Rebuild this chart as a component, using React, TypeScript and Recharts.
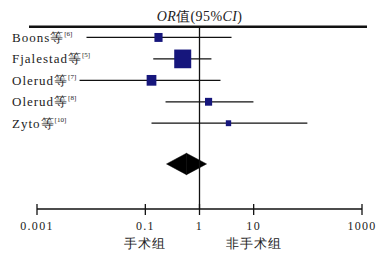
import React from 'react';
import {
  ScatterChart,
  Scatter,
  XAxis,
  YAxis,
  ReferenceLine,
  ReferenceArea,
} from 'recharts';

// Individual studies
const studyNames = ['Boons等', 'Fjalestad等', 'Olerud等', 'Olerud等', 'Zyto等'];
const studyRefs = ['[6]', '[5]', '[7]', '[8]', '[10]'];
const oddsRatios = [0.175, 0.49, 0.13, 1.47, 3.43];
const ciLower = [0.0082, 0.14, 0.0061, 0.236, 0.13];
const ciUpper = [3.9, 1.66, 2.44, 9.9, 98];
const studyWeights = [12.5, 54.6, 17.9, 9.6, 5.4];

// Pooled estimate
const pooledOR = 0.575;
const pooledLower = 0.246;
const pooledUpper = 1.35;

// Axis
const axisTicks = [0.001, 0.1, 1, 10, 1000];
const favourTicks = [0.1, 10];
const favourLabels = ['手术组', '非手术组'];

const POOLED_ROW = 5.9;
const BOX_COLOR = '#16167c';
const SERIF = 'Liberation Serif, serif';

const rows = studyNames.map((name, i) => ({
  name,
  ref: studyRefs[i],
  or: oddsRatios[i],
  lower: ciLower[i],
  upper: ciUpper[i],
  weight: studyWeights[i],
  row: i,
}));

const WeightBox = (props: any) => {
  const { cx, cy, payload } = props;
  const side = Math.sqrt(payload.weight) * 2.3;
  const h = side * 1.1;
  return <rect x={cx - side / 2} y={cy - h / 2} width={side} height={h} fill={BOX_COLOR} />;
};

const StudyTick = (props: any) => {
  const { y, payload } = props;
  const r = rows[payload.value];
  if (!r) return null;
  return (
    <text x={12} y={y} dy={4.5} fontFamily={SERIF} fontSize={13} letterSpacing={1} fill="#222" textAnchor="start">
      {r.name}
      <tspan fontSize={7} dy={-6} letterSpacing={0}>
        {r.ref}
      </tspan>
    </text>
  );
};

const OrTick = (props: any) => {
  const { x, y, payload } = props;
  const v = payload.value;
  const fi = favourTicks.indexOf(v);
  return (
    <g>
      <line x1={x} x2={x} y1={y - 5} y2={y + 6} stroke="#111" strokeWidth={1.3} />
      <text x={x} y={y + 21} fontFamily={SERIF} fontSize={12} letterSpacing={1.3} fill="#222" textAnchor="middle">
        {String(v)}
      </text>
      {fi >= 0 && (
        <text x={x} y={y + 39} fontFamily={SERIF} fontSize={13} letterSpacing={1} fill="#222" textAnchor="middle">
          {favourLabels[fi]}
        </text>
      )}
    </g>
  );
};

const HeaderRule = (props: any) => {
  const { x1, x2, y1 } = props;
  return <line x1={x1 - 8} x2={x2 + 5} y1={y1} y2={y1} stroke="#111" strokeWidth={2.6} />;
};

const HeaderTitle = (props: any) => {
  const vb = props.viewBox || {};
  const cx = (vb.x ?? 0) + (vb.width ?? 0) / 2;
  return (
    <text x={cx} y={(vb.y ?? 0) - 6} fontFamily={SERIF} fontSize={14} letterSpacing={0.4} fill="#222" textAnchor="middle">
      <tspan fontStyle="italic">OR</tspan>值(95%<tspan fontStyle="italic">CI</tspan>)
    </text>
  );
};

const LeftHalf = (props: any) => {
  const { x, y, width, height } = props;
  const pts = `${x},${y + height / 2} ${x + width},${y} ${x + width},${y + height}`;
  return <polygon points={pts} fill="#000" stroke="#000" strokeWidth={0.5} />;
};

const RightHalf = (props: any) => {
  const { x, y, width, height } = props;
  const pts = `${x},${y} ${x + width},${y + height / 2} ${x},${y + height}`;
  return <polygon points={pts} fill="#000" stroke="#000" strokeWidth={0.5} />;
};

export default function App() {
  return (
    <div style={{ position: 'absolute', left: 0, top: 0, width: 387, height: 255, background: '#fff' }}>
      <ScatterChart width={387} height={255} margin={{ top: 16, right: 25, bottom: 0, left: 36 }}>
        <XAxis
          type="number"
          dataKey="or"
          scale="log"
          domain={[0.001, 1000]}
          allowDataOverflow
          ticks={axisTicks}
          interval={0}
          tickSize={0}
          tickMargin={0}
          tickLine={false}
          axisLine={{ stroke: '#111', strokeWidth: 1.5 }}
          tick={<OrTick />}
          height={46}
        />
        <YAxis
          type="number"
          dataKey="row"
          domain={[-1, 8]}
          reversed
          allowDataOverflow
          ticks={[0, 1, 2, 3, 4]}
          interval={0}
          width={1}
          axisLine={false}
          tickLine={false}
          tick={<StudyTick />}
        />
        <ReferenceLine
          segment={[{ x: 0.001, y: -0.5 }, { x: 1000, y: -0.5 }]}
          shape={<HeaderRule />}
          label={<HeaderTitle />}
          ifOverflow="visible"
        />
        <ReferenceLine
          segment={[{ x: 1, y: -0.5 }, { x: 1, y: 8 }]}
          stroke="#111"
          strokeWidth={1.3}
          ifOverflow="visible"
        />
        {rows.map((r) => (
          <ReferenceLine
            key={`ci-${r.row}`}
            segment={[{ x: r.lower, y: r.row }, { x: r.upper, y: r.row }]}
            stroke="#111"
            strokeWidth={1.2}
            ifOverflow="visible"
          />
        ))}
        <ReferenceArea
          x1={pooledLower}
          x2={pooledOR}
          y1={POOLED_ROW - 0.5}
          y2={POOLED_ROW + 0.5}
          shape={<LeftHalf />}
          ifOverflow="visible"
        />
        <ReferenceArea
          x1={pooledOR}
          x2={pooledUpper}
          y1={POOLED_ROW - 0.5}
          y2={POOLED_ROW + 0.5}
          shape={<RightHalf />}
          ifOverflow="visible"
        />
        <Scatter data={rows} shape={<WeightBox />} isAnimationActive={false} />
      </ScatterChart>
    </div>
  );
}
